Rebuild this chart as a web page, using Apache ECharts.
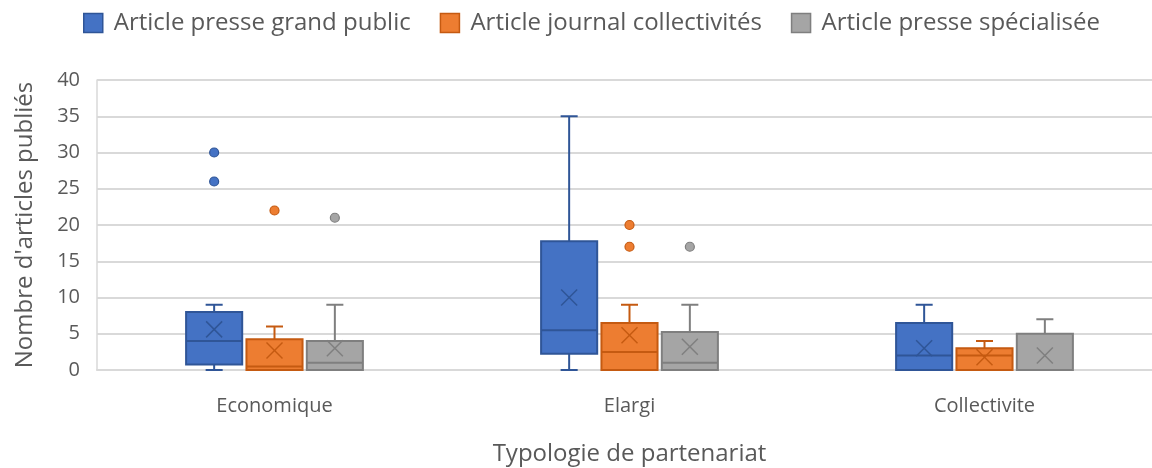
<!DOCTYPE html>
<html>
<head>
<meta charset="utf-8">
<script src="https://cdn.jsdelivr.net/npm/echarts@6/dist/echarts.min.js"></script>
<style>
  html, body { margin: 0; padding: 0; background: #fff; }
  #chart { width: 1152px; height: 468px; }
</style>
</head>
<body>
<div id="chart"></div>
<script>
// categories + y ticks
var categories = ['Economique', 'Elargi', 'Collectivite'];
var seriesNames = ['Article presse grand public', 'Article journal collectivités', 'Article presse spécialisée'];

// box values per category: [min, Q1, median, Q3, max]
var grandPublicBox = [[0, 0.75, 4, 8, 9], [0, 2.25, 5.5, 17.75, 35], [0, 0, 2, 6.5, 9]];
var grandPublicMean = [5.6, 10, 3];
var grandPublicOutliers = [[0, 30], [0, 26]];

var journalBox = [[0, 0, 0.5, 4.25, 6], [0, 0, 2.5, 6.5, 9], [0, 0, 2, 3, 4]];
var journalMean = [2.7, 4.8, 1.75];
var journalOutliers = [[0, 22], [1, 20], [1, 17]];

var specialiseeBox = [[0, 0, 1, 4, 9], [0, 0, 1, 5.25, 9], [0, 0, 0, 5, 7]];
var specialiseeMean = [3, 3.2, 2];
var specialiseeOutliers = [[0, 21], [1, 17]];

var fills = ['#4472C4', '#ED7D31', '#A5A5A5'];
var darks = ['#2F5597', '#C55A11', '#7F7F7F'];
var txt = '#595959';
var font = '"Open Sans", "Noto Sans", sans-serif';

function boxData(box, mean) {
	var out = [];
	for (var i = 0; i < box.length; i++) {
		out.push([i].concat(box[i]).concat([mean[i]]));
	}
	return out;
}

function makeBox(k) {
	return function (params, api) {
		var cat = api.value(0);
		var bw = api.size([1, 0])[0];
		var x = api.coord([cat, 0])[0] + (k - 1) * bw * 0.17;
		var half = bw * 0.079;
		var cap = bw * 0.024;
		var yMin = api.coord([cat, api.value(1)])[1];
		var yQ1 = api.coord([cat, api.value(2)])[1];
		var yMed = api.coord([cat, api.value(3)])[1];
		var yQ3 = api.coord([cat, api.value(4)])[1];
		var yMax = api.coord([cat, api.value(5)])[1];
		var yMean = api.coord([cat, api.value(6)])[1];
		var ln = { stroke: darks[k], lineWidth: 2 };
		var m = 8;
		return {
			type: 'group',
			children: [
				{ type: 'line', shape: { x1: x, y1: yQ3, x2: x, y2: yMax }, style: ln },
				{ type: 'line', shape: { x1: x - cap, y1: yMax, x2: x + cap, y2: yMax }, style: ln },
				{ type: 'line', shape: { x1: x, y1: yQ1, x2: x, y2: yMin }, style: ln },
				{ type: 'line', shape: { x1: x - cap, y1: yMin, x2: x + cap, y2: yMin }, style: ln },
				{ type: 'rect', shape: { x: x - half, y: yQ3, width: half * 2, height: yQ1 - yQ3 },
				  style: { fill: fills[k], stroke: darks[k], lineWidth: 2 } },
				{ type: 'line', shape: { x1: x - half, y1: yMed, x2: x + half, y2: yMed }, style: ln },
				{ type: 'line', shape: { x1: x - m, y1: yMean - m, x2: x + m, y2: yMean + m }, style: { stroke: darks[k], lineWidth: 1.5 } },
				{ type: 'line', shape: { x1: x - m, y1: yMean + m, x2: x + m, y2: yMean - m }, style: { stroke: darks[k], lineWidth: 1.5 } }
			]
		};
	};
}

function makeDots(k) {
	return function (params, api) {
		var cat = api.value(0);
		var bw = api.size([1, 0])[0];
		var p = api.coord([cat, api.value(1)]);
		return {
			type: 'circle',
			shape: { cx: p[0] + (k - 1) * bw * 0.17, cy: p[1], r: 4.5 },
			style: { fill: fills[k], stroke: darks[k], lineWidth: 1.2 }
		};
	};
}

var boxes = [boxData(grandPublicBox, grandPublicMean), boxData(journalBox, journalMean), boxData(specialiseeBox, specialiseeMean)];
var dots = [grandPublicOutliers, journalOutliers, specialiseeOutliers];

var series = [];
for (var k = 0; k < 3; k++) {
	series.push({
		name: seriesNames[k],
		type: 'custom',
		renderItem: makeBox(k),
		itemStyle: { color: fills[k] },
		encode: { x: 0, y: [1, 2, 3, 4, 5] },
		data: boxes[k],
		z: 2
	});
	series.push({
		name: seriesNames[k],
		type: 'custom',
		renderItem: makeDots(k),
		itemStyle: { color: fills[k] },
		encode: { x: 0, y: 1 },
		data: dots[k],
		z: 3
	});
}

var legendData = [];
for (var j = 0; j < 3; j++) {
	legendData.push({ name: seriesNames[j], icon: 'rect', itemStyle: { color: fills[j], borderColor: darks[j], borderWidth: 1.5 } });
}

var myChart = echarts.init(document.getElementById('chart'));
var option = {
	animation: false,
	textStyle: { fontFamily: font },
	legend: {
		data: legendData,
		top: 6,
		left: 78,
		itemWidth: 19,
		itemHeight: 19,
		itemGap: 29,
		textStyle: { fontSize: 24, color: txt, fontFamily: font, padding: [0, 0, 0, 6] }
	},
	grid: { left: 97, right: -10, top: 80, bottom: 98, outerBoundsMode: 'none' },
	xAxis: {
		type: 'category',
		data: categories,
		name: 'Typologie de partenariat',
		nameLocation: 'middle',
		nameGap: 72,
		nameTextStyle: { fontSize: 24, color: txt, fontFamily: font },
		axisTick: { show: false },
		axisLine: { lineStyle: { color: '#d9d9d9', width: 2 } },
		axisLabel: { fontSize: 20, color: txt, margin: 26, fontFamily: font }
	},
	yAxis: {
		type: 'value',
		min: 0,
		max: 40,
		interval: 5,
		name: "Nombre d'articles publiés",
		nameLocation: 'middle',
		nameGap: 60,
		nameTextStyle: { fontSize: 24, color: txt, fontFamily: font },
		axisLine: { show: true, lineStyle: { color: '#d9d9d9', width: 1.5 } },
		axisTick: { show: false },
		axisLabel: { fontSize: 20, color: txt, margin: 17, fontFamily: font },
		splitLine: { lineStyle: { color: '#d9d9d9', width: 2 } }
	},
	series: series
};
myChart.setOption(option);
</script>
</body>
</html>
